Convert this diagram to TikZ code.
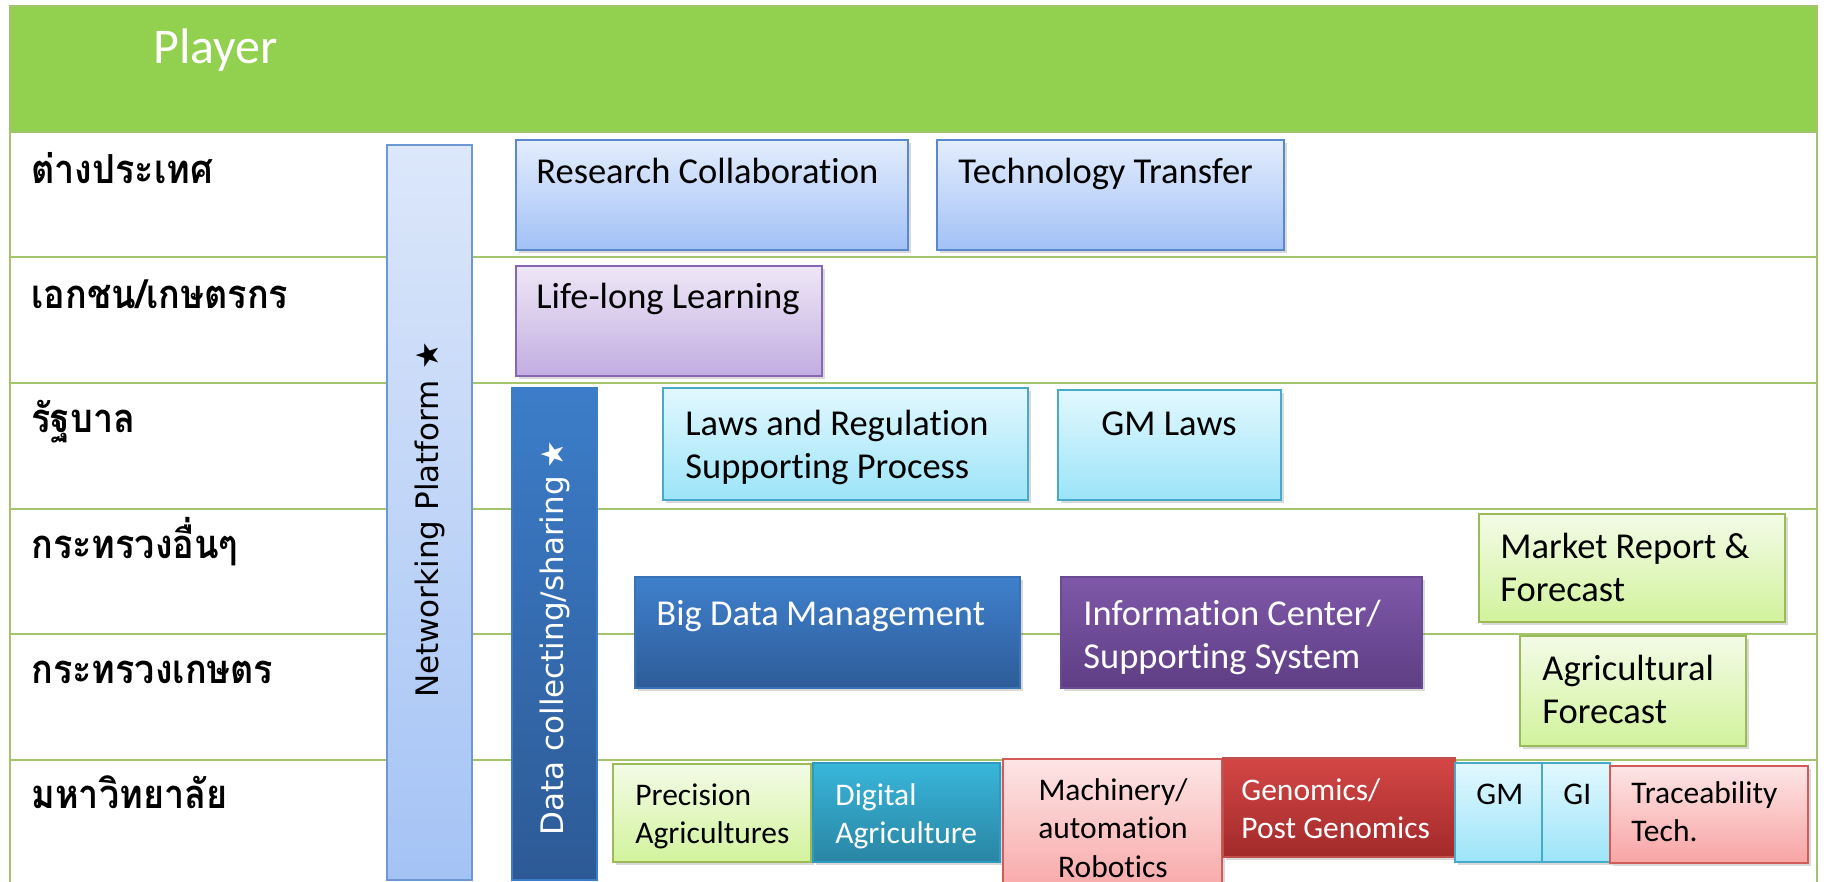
\documentclass[tikz,border=0pt]{standalone}
\usepackage{fontspec}
\setmainfont{Carlito}[Ligatures=NoCommon]
\newfontfamily\thaifont[Script=Thai, FakeStretch=0.9]{Loma}
\newfontfamily\barfont{DejaVu Sans}
\usetikzlibrary{fit,shadows}
\definecolor{hdrgreen}{HTML}{92D050}
\definecolor{gridgreen}{HTML}{A3C46C}
\definecolor{netTop}{HTML}{DCE7FA}\definecolor{netBot}{HTML}{A4C3F5}\definecolor{netLine}{HTML}{6E98D3}
\definecolor{resTop}{HTML}{E3EDFD}\definecolor{resBot}{HTML}{A2C1F6}\definecolor{resLine}{HTML}{5A88CC}
\definecolor{lifeTop}{HTML}{EEE7F6}\definecolor{lifeBot}{HTML}{C2ADE1}\definecolor{lifeLine}{HTML}{8767B4}
\definecolor{cyTop}{HTML}{E2F8FE}\definecolor{cyBot}{HTML}{9CE4F9}\definecolor{cyLine}{HTML}{46AAC8}
\definecolor{bdTop}{HTML}{3F80CC}\definecolor{bdBot}{HTML}{2E5C99}\definecolor{bdLine}{HTML}{3A72B8}
\definecolor{infTop}{HTML}{7F58A9}\definecolor{infBot}{HTML}{5E3E84}\definecolor{infLine}{HTML}{6A4A92}
\definecolor{grTop}{HTML}{F3FBE7}\definecolor{grBot}{HTML}{D2F39C}\definecolor{grLine}{HTML}{9BBB59}
\definecolor{digTop}{HTML}{38B6DA}\definecolor{digBot}{HTML}{2A85A4}\definecolor{digLine}{HTML}{2E9AC0}
\definecolor{pkTop}{HTML}{FDE5E5}\definecolor{pkBot}{HTML}{F8A4A4}\definecolor{pkLine}{HTML}{D05B58}
\definecolor{rdTop}{HTML}{D44646}\definecolor{rdBot}{HTML}{A32A2A}\definecolor{rdLine}{HTML}{C0504D}
\definecolor{dbTop}{HTML}{3C7DC9}\definecolor{dbBot}{HTML}{2D5A96}
\newcommand{\twoline}[2]{\vtop{\hbox{#1}\hbox{#2}}}
\newcommand{\ctrline}[1]{\hbox to 0pt{\hss #1\hss}}
\tikzset{
  gridline/.style={draw=gridgreen, line width=1.1pt},
  box/.style={inner sep=0pt, line width=0.9pt,
    drop shadow={shadow xshift=1.5pt, shadow yshift=-1.5pt, opacity=0.3}},
  plainbar/.style={inner sep=0pt, line width=0.9pt},
  netbar/.style={plainbar, draw=netLine, top color=netTop, bottom color=netBot},
  databar/.style={plainbar, draw=dbTop, top color=dbTop, bottom color=dbBot},
  bluebox/.style={box, draw=resLine, top color=resTop, bottom color=resBot},
  lilacbox/.style={box, draw=lifeLine, top color=lifeTop, bottom color=lifeBot},
  cyanbox/.style={box, draw=cyLine, top color=cyTop, bottom color=cyBot},
  darkbluebox/.style={box, draw=bdLine, top color=bdTop, bottom color=bdBot},
  purplebox/.style={box, draw=infLine, top color=infTop, bottom color=infBot},
  greenbox/.style={box, draw=grLine, top color=grTop, bottom color=grBot},
  tealbox/.style={box, draw=digLine, top color=digTop, bottom color=digBot},
  pinkbox/.style={box, draw=pkLine, top color=pkTop, bottom color=pkBot},
  redbox/.style={box, draw=rdLine, top color=rdTop, bottom color=rdBot},
  txt/.style={anchor=base west, inner sep=0pt, font=\fontsize{18.25}{21.5}\selectfont},
  smalltxt/.style={anchor=base west, inner sep=0pt, font=\fontsize{15.75}{19.25}\selectfont},
  thailabel/.style={anchor=base west, inner sep=0pt, font=\thaifont\bfseries\fontsize{20}{24}\selectfont},
  bartxt/.style={rotate=90, inner sep=0pt, font=\barfont\fontsize{15.5}{18}\selectfont},
}
\begin{document}
\begin{tikzpicture}[x=0.5pt,y=-0.5pt]
\useasboundingbox (0,0) rectangle (1824,882);
% table frame and rows
\draw[gridline] (10,6) -- (10,882);
\draw[gridline] (1817,6) -- (1817,882);
\foreach \yy in {257,383,509,634,760} {\draw[gridline] (10,\yy) -- (1817,\yy);}
\node[fit={(10,6)(1817,132)}, inner sep=0pt, fill=hdrgreen, draw=gridgreen, line width=1.1pt] (header) {};
\node[anchor=base west, inner sep=0pt, text=white, font=\fontsize{25}{30}\selectfont] (player) at (153,64) {Player};
% row labels
\node[thailabel] (row1) at (31,184) {ต่างประเทศ};
\node[thailabel] (row2) at (31,308) {เอกชน/เกษตรกร};
\node[thailabel] (row3) at (31,432) {รัฐบาล};
\node[thailabel] (row4) at (31,558) {กระทรวงอื่นๆ};
\node[thailabel] (row5) at (31,683) {กระทรวงเกษตร};
\node[thailabel] (row6) at (31,808) {มหาวิทยาลัย};
% vertical bars
\node[netbar, fit={(387,145)(472,880)}] (net) {};
\node[bartxt] (nettext) at (430,520) {Networking Platform ★};
\node[databar, fit={(512,388)(597,880)}] (data) {};
\node[bartxt, text=white] (datatext) at (555,638) {Data collecting/sharing\hskip0.25em ★};
% boxes
\node[bluebox, fit={(516,140)(908,250)}] (research) {};
\node[txt] (researcht) at (536,184) {Research Collaboration};
\node[bluebox, fit={(937,140)(1284,250)}] (tech) {};
\node[txt] (techt) at (958,184) {Technology Transfer};
\node[lilacbox, fit={(516,266)(822,376)}] (life) {};
\node[txt] (lifet) at (536,308) {Life-long Learning};
\node[cyanbox, fit={(663,388)(1028,500)}] (laws) {};
\node[txt] (lawst) at (685,435) {\twoline{Laws and Regulation}{Supporting Process}};
\node[cyanbox, fit={(1058,390)(1281,500)}] (gmlaws) {};
\node[txt] (gmlawst) at (1101,435) {GM Laws};
\node[darkbluebox, fit={(635,577)(1020,688)}] (bigdata) {};
\node[txt, text=white] (bigdatat) at (656,625) {Big Data\hskip0.2em Management};
\node[purplebox, fit={(1061,577)(1422,688)}] (info) {};
\node[txt, text=white] (infot) at (1083,625) {\twoline{Information Center/}{Supporting System}};
\node[greenbox, fit={(1479,514)(1785,622)}] (market) {};
\node[txt] (markett) at (1500,558) {\twoline{Market Report \&}{Forecast}};
\node[greenbox, fit={(1520,636)(1746,746)}] (agri) {};
\node[txt] (agrit) at (1542,680) {\twoline{Agricultural}{Forecast}};
% university row
\node[greenbox, fit={(613,764)(811,862)}] (precision) {};
\node[smalltxt] (precisiont) at (635,805) {\twoline{Precision}{Agricultures}};
\node[tealbox, fit={(813,763)(1000,862)}] (digital) {};
\node[smalltxt, text=white] (digitalt) at (835,805) {\twoline{Digital}{Agriculture}};
\node[pinkbox, fit={(1003,759)(1222,900)}] (machinery) {};
\node[smalltxt, anchor=base] (machineryt) at (1113,800) {\vtop{\ctrline{Machinery/}\ctrline{automation}\ctrline{Robotics}}};
\node[redbox, fit={(1223,758)(1455,857)}] (genomics) {};
\node[smalltxt, text=white] (genomicst) at (1241,800) {\twoline{Genomics/}{Post Genomics}};
\node[cyanbox, fit={(1455,763)(1542,862)}] (gm) {};
\node[smalltxt] (gmt) at (1476,804) {GM};
\node[cyanbox, fit={(1542,763)(1610,862)}] (gi) {};
\node[smalltxt] (git) at (1563,804) {GI};
\node[pinkbox, fit={(1610,766)(1808,863)}] (trace) {};
\node[smalltxt] (tracet) at (1631,803) {\twoline{Traceability}{Tech.}};
\end{tikzpicture}
\end{document}
